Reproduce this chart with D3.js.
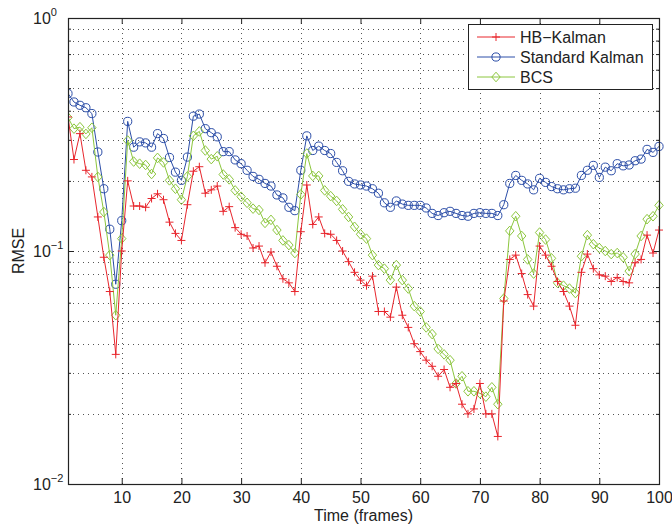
<!DOCTYPE html>
<html>
<head>
<meta charset="utf-8">
<script src="https://cdn.jsdelivr.net/npm/d3@7"></script>
<style>
  body { margin: 0; background: #fff; }
  text { font-family: "Liberation Sans", Arial, Helvetica, sans-serif; fill: #222; }
</style>
</head>
<body>
<svg id="chart" width="672" height="524"></svg>
<script>
// RMSE per frame for three tracking methods (log-scale y axis)
const frames = d3.range(1, 101);

const hbKalman = [
  0.376, 0.247, 0.319, 0.222, 0.208, 0.140, 0.094, 0.067, 0.036, 0.100,
  0.200, 0.156, 0.156, 0.154, 0.168, 0.176, 0.166, 0.133, 0.119, 0.111,
  0.158, 0.220, 0.230, 0.177, 0.183, 0.190, 0.148, 0.155, 0.126, 0.118,
  0.116, 0.103, 0.105, 0.089, 0.099, 0.086, 0.076, 0.073, 0.067, 0.121,
  0.192, 0.130, 0.140, 0.119, 0.118, 0.111, 0.100, 0.090, 0.081, 0.075,
  0.071, 0.078, 0.055, 0.055, 0.052, 0.070, 0.053, 0.047, 0.040, 0.037,
  0.034, 0.032, 0.029, 0.031, 0.026, 0.027, 0.022, 0.020, 0.021, 0.027,
  0.020, 0.020, 0.016, 0.061, 0.092, 0.096, 0.080, 0.065, 0.058, 0.105,
  0.096, 0.086, 0.074, 0.067, 0.058, 0.048, 0.081, 0.097, 0.084, 0.079,
  0.078, 0.074, 0.077, 0.074, 0.073, 0.089, 0.092, 0.117, 0.098, 0.123
];

const standardKalman = [
  0.474, 0.436, 0.422, 0.412, 0.389, 0.266, 0.185, 0.124, 0.072, 0.135,
  0.360, 0.279, 0.294, 0.291, 0.279, 0.319, 0.304, 0.252, 0.218, 0.201,
  0.253, 0.379, 0.387, 0.335, 0.322, 0.309, 0.267, 0.267, 0.246, 0.237,
  0.222, 0.209, 0.203, 0.195, 0.190, 0.174, 0.169, 0.154, 0.149, 0.222,
  0.312, 0.270, 0.282, 0.270, 0.262, 0.240, 0.221, 0.199, 0.194, 0.192,
  0.190, 0.185, 0.177, 0.161, 0.154, 0.164, 0.159, 0.157, 0.157, 0.157,
  0.153, 0.145, 0.142, 0.146, 0.148, 0.145, 0.142, 0.141, 0.145, 0.146,
  0.145, 0.145, 0.142, 0.158, 0.195, 0.211, 0.201, 0.194, 0.183, 0.205,
  0.197, 0.189, 0.185, 0.183, 0.185, 0.186, 0.211, 0.222, 0.233, 0.207,
  0.229, 0.221, 0.237, 0.232, 0.234, 0.244, 0.248, 0.273, 0.265, 0.281
];

const bcs = [
  0.374, 0.335, 0.340, 0.318, 0.338, 0.208, 0.147, 0.096, 0.053, 0.113,
  0.298, 0.242, 0.237, 0.234, 0.214, 0.251, 0.240, 0.201, 0.185, 0.166,
  0.209, 0.312, 0.326, 0.270, 0.248, 0.255, 0.213, 0.203, 0.182, 0.171,
  0.161, 0.152, 0.150, 0.132, 0.136, 0.123, 0.111, 0.106, 0.098, 0.175,
  0.262, 0.210, 0.210, 0.182, 0.172, 0.164, 0.151, 0.140, 0.127, 0.118,
  0.113, 0.096, 0.087, 0.084, 0.075, 0.087, 0.075, 0.069, 0.058, 0.055,
  0.047, 0.044, 0.038, 0.036, 0.034, 0.027, 0.029, 0.025, 0.025, 0.0245,
  0.0237, 0.026, 0.022, 0.0625, 0.122, 0.141, 0.116, 0.092, 0.080, 0.120,
  0.112, 0.093, 0.073, 0.071, 0.069, 0.066, 0.095, 0.117, 0.107, 0.103,
  0.100, 0.097, 0.098, 0.094, 0.082, 0.097, 0.116, 0.137, 0.141, 0.157
];

const seriesNames = ["HB\u2212Kalman", "Standard Kalman", "BCS"];
const seriesColors = ["#e8262d", "#2c4ea8", "#8cc63e"];
const seriesMarkers = ["plus", "circle", "diamond"];
const xTicks = [10, 20, 30, 40, 50, 60, 70, 80, 90, 100];
const yMajorExponents = [-2, -1, 0];

const FONT = 16;
const svg = d3.select("#chart");
const plot = { left: 68, right: 659, top: 18, bottom: 484 };

const x = d3.scaleLinear().domain([1, 100]).range([plot.left, plot.right]);
const y = d3.scaleLog().domain([0.01, 1]).range([plot.bottom, plot.top]);

// minor log values (2..9 in each decade)
const minorVals = [];
[0.01, 0.1].forEach(d => { for (let k = 2; k <= 9; k++) minorVals.push(k * d); });

// dotted grid
const grid = svg.append("g").attr("stroke", "#555").attr("stroke-width", 1)
  .attr("stroke-dasharray", "1,4").attr("fill", "none");
xTicks.filter(t => t < 100).forEach(t => {
  grid.append("line").attr("x1", Math.round(x(t)) + 0.5).attr("x2", Math.round(x(t)) + 0.5)
    .attr("y1", plot.top).attr("y2", plot.bottom);
});
minorVals.concat([0.1]).forEach(v => {
  grid.append("line").attr("x1", plot.left).attr("x2", plot.right)
    .attr("y1", Math.round(y(v)) + 0.5).attr("y2", Math.round(y(v)) + 0.5);
});

// axes with inward ticks on all four sides
const tickLen = 6, minorLen = 3;
const bottomAxis = d3.axisBottom(x).tickValues(xTicks).tickSizeInner(-tickLen).tickSizeOuter(0).tickPadding(8).tickFormat(d3.format("d"));
const topAxis = d3.axisTop(x).tickValues(xTicks).tickSizeInner(-tickLen).tickSizeOuter(0).tickFormat("");
const majorVals = yMajorExponents.map(e => Math.pow(10, e));
const leftAxis = d3.axisLeft(y).tickValues(majorVals).tickSizeInner(-tickLen).tickSizeOuter(0).tickFormat("");
const rightAxis = d3.axisRight(y).tickValues(majorVals).tickSizeInner(-tickLen).tickSizeOuter(0).tickFormat("");
const leftMinor = d3.axisLeft(y).tickValues(minorVals).tickSizeInner(-minorLen).tickSizeOuter(0).tickFormat("");
const rightMinor = d3.axisRight(y).tickValues(minorVals).tickSizeInner(-minorLen).tickSizeOuter(0).tickFormat("");

function styleAxis(g) {
  g.select(".domain").remove();
  g.selectAll("line").attr("stroke", "#222");
  g.selectAll("text").attr("font-size", FONT).attr("fill", "#222")
    .attr("font-family", "\"Liberation Sans\", Arial, sans-serif");
}
svg.append("g").attr("transform", `translate(0,${plot.bottom})`).call(bottomAxis).call(styleAxis);
svg.append("g").attr("transform", `translate(0,${plot.top})`).call(topAxis).call(styleAxis);
svg.append("g").attr("transform", `translate(${plot.left},0)`).call(leftAxis).call(styleAxis);
svg.append("g").attr("transform", `translate(${plot.right},0)`).call(rightAxis).call(styleAxis);
svg.append("g").attr("transform", `translate(${plot.left},0)`).call(leftMinor).call(styleAxis);
svg.append("g").attr("transform", `translate(${plot.right},0)`).call(rightMinor).call(styleAxis);

// y tick labels as powers of ten
const yLab = svg.append("g");
yMajorExponents.forEach(e => {
  const t = yLab.append("text").attr("x", 33).attr("y", y(Math.pow(10, e)) + 6)
    .attr("font-size", FONT);
  t.append("tspan").text("10");
  t.append("tspan").attr("dy", -8).attr("font-size", 11).text(e === 0 ? "0" : "\u2212" + Math.abs(e));
});

// series
const data = [hbKalman, standardKalman, bcs];
const line = d3.line().x((d, i) => x(frames[i])).y(d => y(d));
const markerPath = {
  plus: "M-4,0H4M0,-4V4",
  diamond: "M0,-4.8L4.2,0L0,4.8L-4.2,0Z"
};
function drawMarker(g, type, color) {
  if (type === "circle") {
    g.append("circle").attr("r", 4.1).attr("fill", "none").attr("stroke", color).attr("stroke-width", 1);
  } else {
    g.append("path").attr("d", markerPath[type]).attr("fill", "none").attr("stroke", color).attr("stroke-width", 1);
  }
}

const clipId = "plotclip";
svg.append("clipPath").attr("id", clipId).append("rect")
  .attr("x", plot.left).attr("y", plot.top)
  .attr("width", plot.right - plot.left + 6).attr("height", plot.bottom - plot.top);

const seriesG = svg.append("g").attr("clip-path", `url(#${clipId})`);
[1, 2, 0].forEach(s => {
  const g = seriesG.append("g");
  g.append("path").datum(data[s]).attr("d", line).attr("fill", "none")
    .attr("stroke", seriesColors[s]).attr("stroke-width", 1);
  data[s].forEach((v, i) => {
    const m = g.append("g").attr("transform", `translate(${x(frames[i])},${y(v)})`);
    drawMarker(m, seriesMarkers[s], seriesColors[s]);
  });
});

// axes box
svg.append("rect").attr("x", plot.left + 0.5).attr("y", plot.top + 0.5)
  .attr("width", plot.right - plot.left).attr("height", plot.bottom - plot.top)
  .attr("fill", "none").attr("stroke", "#222").attr("stroke-width", 1.2);

// axis titles
svg.append("text").attr("x", (plot.left + plot.right) / 2).attr("y", 521)
  .attr("text-anchor", "middle").attr("font-size", FONT).text("Time (frames)");
svg.append("text").attr("transform", `translate(24,${(plot.top + plot.bottom) / 2}) rotate(-90)`)
  .attr("text-anchor", "middle").attr("font-size", FONT).text("RMSE");

// legend
const lg = svg.append("g");
lg.append("rect").attr("x", 468.5).attr("y", 24.5).attr("width", 184).attr("height", 65)
  .attr("fill", "#fff").attr("stroke", "#222").attr("stroke-width", 1);
seriesNames.forEach((name, i) => {
  const cy = 37 + i * 20;
  lg.append("line").attr("x1", 477).attr("x2", 515).attr("y1", cy).attr("y2", cy)
    .attr("stroke", seriesColors[i]).attr("stroke-width", 1);
  const m = lg.append("g").attr("transform", `translate(496,${cy})`);
  drawMarker(m, seriesMarkers[i], seriesColors[i]);
  lg.append("text").attr("x", 520).attr("y", cy + 6).attr("font-size", FONT).text(name);
});
</script>
</body>
</html>
